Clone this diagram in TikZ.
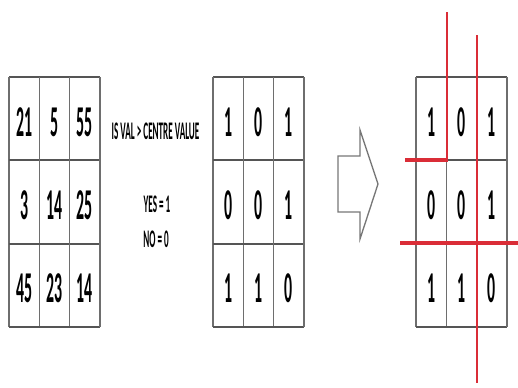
\documentclass[tikz,border=0pt]{standalone}
\usepackage{fontspec}
\setmainfont{Carlito}
\usepackage{graphicx}
\definecolor{gridgray}{RGB}{85,85,85}
\definecolor{cutred}{RGB}{218,45,55}
\newcommand{\squeeze}[1]{\scalebox{0.36}[1]{#1}}
\tikzset{
  val/.style={inner sep=0pt, font=\fontsize{33}{33}\selectfont\bfseries},
  note/.style={inner sep=0pt, font=\fontsize{19}{19}\selectfont\bfseries},
  rowline/.style={draw=gridgray, line width=1.5pt},
  colline/.style={draw=gridgray!85, line width=0.9pt},
  cutline/.style={draw=cutred, line width=1.1pt},
}
\begin{document}
\begin{tikzpicture}[x=0.75pt,y=-0.75pt]
  \useasboundingbox (0,0) rectangle (518,387);
  % the three 3x3 grids
  \foreach \gx in {9,213,416} {
    \foreach \i in {0,...,3} {
      \draw[rowline] (\gx,77+83.3*\i) -- ++(91,0);
      \draw[colline] (\gx+30.33*\i,77) -- ++(0,250);
    }
  }
  \foreach \r/\vals in {0/{21,5,55},1/{3,14,25},2/{45,23,14}}
    \foreach \v [count=\c from 0] in \vals
      \node[val] (pix-\r-\c) at (24.2+30.33*\c,122+83.3*\r) {\squeeze{\v}};
  \foreach \gx/\g in {213/bin,416/cut}
    \foreach \r/\vals in {0/{1,0,1},1/{0,0,1},2/{1,1,0}}
      \foreach \v [count=\c from 0] in \vals
        \node[val] (\g-\r-\c) at (\gx+15.2+30.33*\c,122+83.3*\r) {\squeeze{\v}};

  \node[note] (rule) at (155.5,131) {\squeeze{IS VAL > CENTRE VALUE}};
  \node[note] (yes) at (157,204) {\squeeze{YES = 1}};
  \node[note] (no) at (156,239) {\squeeze{NO = 0}};

  % block arrow
  \draw[gridgray!80, line width=1pt, line join=miter]
    (338,156) -- (360,156) -- (360,130) -- (378,184) -- (360,239)
    -- (360,212) -- (338,212) -- cycle;

  % red cuts
  \draw[cutline] (447,12) -- (447,160);
  \draw[cutline, line width=2.4pt] (405,160) -- (447.5,160);
  \draw[cutline] (477,35) -- (477,383);
  \draw[cutline, line width=3pt] (400,243) -- (518,243);
\end{tikzpicture}
\end{document}
